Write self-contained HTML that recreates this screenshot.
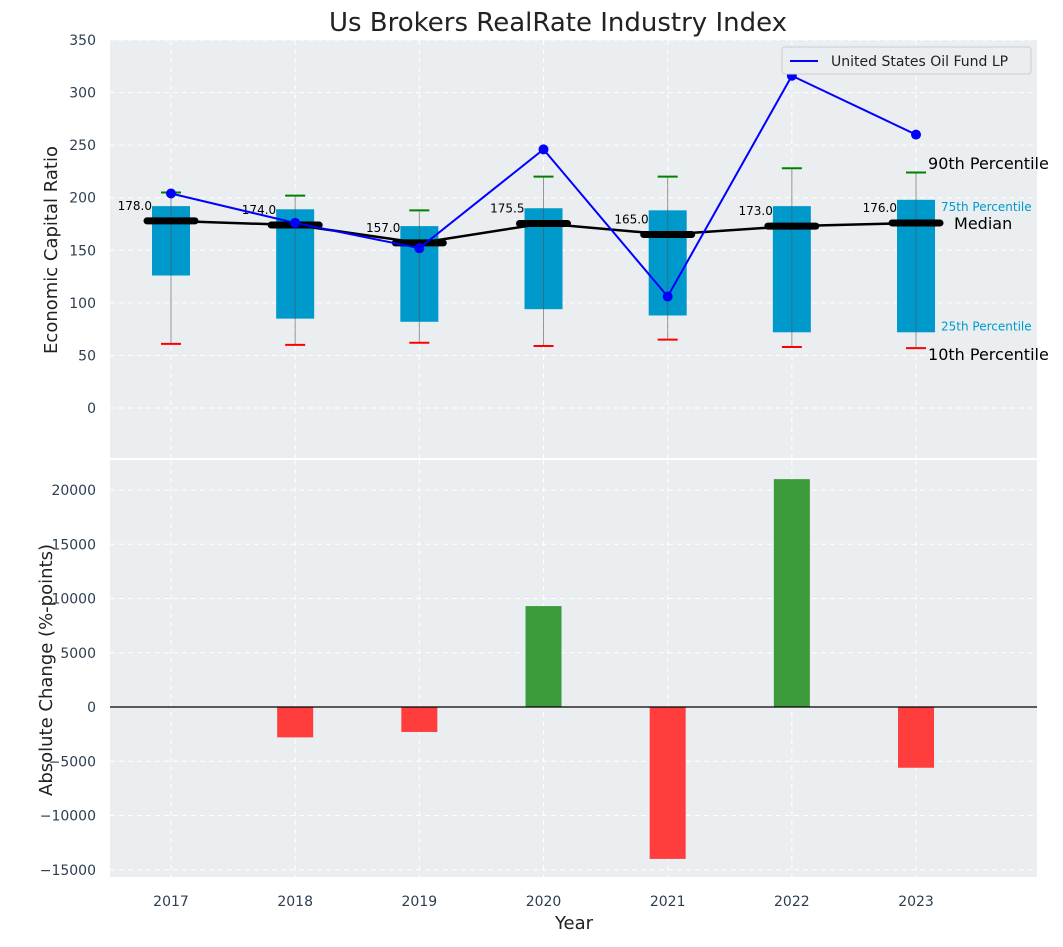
<!DOCTYPE html>
<html><head><meta charset="utf-8"><style>
body{margin:0;background:#fff;font-family:"Liberation Sans","DejaVu Sans",sans-serif}
</style></head><body>
<svg id="c" width="1063" height="942" xmlns="http://www.w3.org/2000/svg" font-family="DejaVu Sans, Liberation Sans, sans-serif"></svg>
<script>
const years=[2017,2018,2019,2020,2021,2022,2023];
const medians=[178,174,157,175.5,165,173,176];
const q75=[192,189,173,190,188,192,198];
const q25=[126,85,82,94,88,72,72];
const p90=[205,202,188,220,220,228,224];
const p10=[61,60,62,59,65,58,57];
const fundLine=[204,176,152,246,106,316,260];
const changes=[0,-2800,-2300,9300,-14000,21000,-5600];
const topTicks=[0,50,100,150,200,250,300,350];
const botTicks=[-15000,-10000,-5000,0,5000,10000,15000,20000];

const NS="http://www.w3.org/2000/svg";
const svg=document.getElementById('c');
function mk(t,a,p){const e=document.createElementNS(NS,t);for(const k in a)e.setAttribute(k,a[k]);(p||svg).appendChild(e);return e;}
const L=110,R=1037;
const X=i=>171+i*124.17;
const Yt=v=>408-v*(368/350);
const Yb=v=>707-v*(217/20000);

let bg=mk('rect',{x:L,y:40,width:R-L,height:418,fill:'#eaeef0'});

let bg2=mk('rect',{x:L,y:460,width:R-L,height:417,fill:'#eaeef0'});


const grid={stroke:'#fff','stroke-dasharray':'5,4','stroke-width':1};
topTicks.forEach(v=>{mk('line',Object.assign({x1:L,x2:R,y1:Yt(v),y2:Yt(v)},grid));
 let t=mk('text',{x:L-14,y:Yt(v)+5,'text-anchor':'end','font-size':14,fill:'#2d3e50'});t.textContent=v;
 });
botTicks.forEach(v=>{mk('line',Object.assign({x1:L,x2:R,y1:Yb(v),y2:Yb(v)},grid));
 let t=mk('text',{x:L-14,y:Yb(v)+5,'text-anchor':'end','font-size':14,fill:'#2d3e50'});t.textContent=v<0?'\u2212'+(-v):v;
 });
years.forEach((y,i)=>{mk('line',Object.assign({x1:X(i),x2:X(i),y1:40,y2:458},grid));mk('line',Object.assign({x1:X(i),x2:X(i),y1:460,y2:877},grid));
 let t=mk('text',{x:X(i),y:906,'text-anchor':'middle','font-size':14,fill:'#2d3e50'});t.textContent=y;
 });

years.forEach((y,i)=>{
 let b=mk('rect',{x:X(i)-19,y:Yt(q75[i]),width:38,height:Yt(q25[i])-Yt(q75[i]),fill:'#0099cc'});
 
 mk('line',{x1:X(i),x2:X(i),y1:Yt(p90[i]),y2:Yt(p10[i]),stroke:'#555','stroke-opacity':0.6,'stroke-width':1});
 let c1=mk('line',{x1:X(i)-10,x2:X(i)+10,y1:Yt(p90[i]),y2:Yt(p90[i]),stroke:'green','stroke-width':2});
 
 let c2=mk('line',{x1:X(i)-10,x2:X(i)+10,y1:Yt(p10[i]),y2:Yt(p10[i]),stroke:'red','stroke-width':2});
 
});
let mp=mk('polyline',{points:medians.map((v,i)=>X(i)+','+Yt(v)).join(' '),fill:'none',stroke:'#000','stroke-width':2.5});

medians.forEach((v,i)=>{
 let m=mk('line',{x1:X(i)-24,x2:X(i)+24,y1:Yt(v),y2:Yt(v),stroke:'#000','stroke-width':7,'stroke-linecap':'round'});
 
 let t=mk('text',{x:X(i)-19,y:Yt(v)-11,'text-anchor':'end','font-size':12,fill:'#000'});t.textContent=v.toFixed(1);
 
});
let fl=mk('polyline',{points:fundLine.map((v,i)=>X(i)+','+Yt(v)).join(' '),fill:'none',stroke:'blue','stroke-width':2});

fundLine.forEach((v,i)=>{let c=mk('circle',{cx:X(i),cy:Yt(v),r:5,fill:'blue'});
 });
const li=6;
[['90th Percentile',X(li)+12,169,16,'#000'],['75th Percentile',X(li)+25,Yt(q75[li])+11,12,'#0099cc'],['Median',X(li)+38,Yt(medians[li])+6,16,'#000'],['25th Percentile',X(li)+25,Yt(q25[li])-2,12,'#0099cc'],['10th Percentile',X(li)+12,Yt(p10[li])+12,16,'#000']].forEach(a=>{
 let t=mk('text',{x:a[1],y:a[2],'font-size':a[3],fill:a[4]});t.textContent=a[0];
 });
let lg=mk('g',{});
mk('rect',{x:782,y:47,width:249,height:27,rx:3,fill:'#eaeef0',stroke:'#ccc'},lg);
mk('line',{x1:790,x2:818,y1:61,y2:61,stroke:'blue','stroke-width':2},lg);
let lt=mk('text',{x:831,y:66,'font-size':14,fill:'#222'},lg);lt.textContent='United States Oil Fund LP';

changes.forEach((v,i)=>{if(!v)return;
 let b=mk('rect',{x:X(i)-18,y:Math.min(Yb(v),Yb(0)),width:36,height:Math.abs(Yb(v)-Yb(0)),fill:v>0?'#3b9b3b':'#ff3d3d'});
 });
mk('line',{x1:L,x2:R,y1:Yb(0),y2:Yb(0),stroke:'#000','stroke-width':1.2});

let ti=mk('text',{x:558,y:31,'text-anchor':'middle','font-size':26,fill:'#222'});ti.textContent='Us Brokers RealRate Industry Index';

let yt=mk('text',{x:0,y:0,'text-anchor':'middle','font-size':18,fill:'#222',transform:'translate(57,250) rotate(-90)'});yt.textContent='Economic Capital Ratio';

let yb=mk('text',{x:0,y:0,'text-anchor':'middle','font-size':18,fill:'#222',transform:'translate(53,670) rotate(-90)'});yb.textContent='Absolute Change (%-points)';

yb.setAttribute('transform','translate(52,670) rotate(-90)');
let xt=mk('text',{x:574,y:929,'text-anchor':'middle','font-size':18,fill:'#222'});xt.textContent='Year';

</script>
</body></html>
